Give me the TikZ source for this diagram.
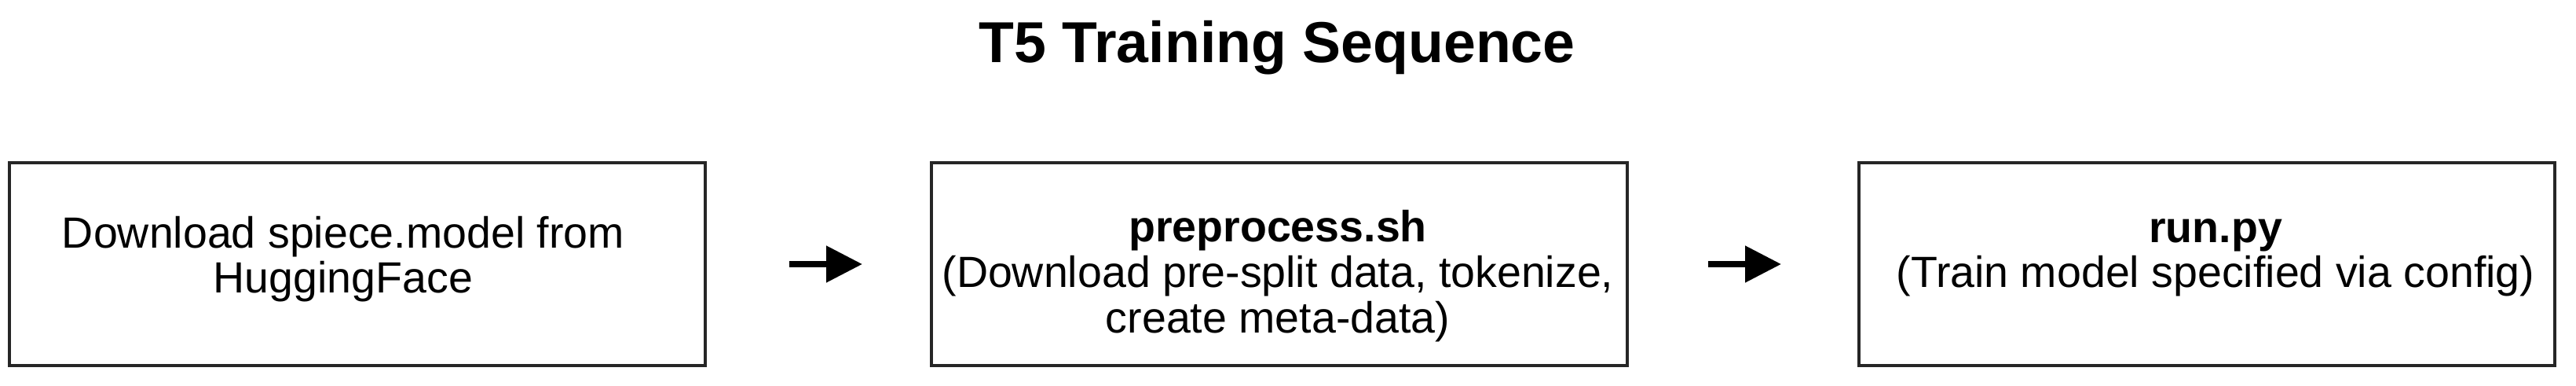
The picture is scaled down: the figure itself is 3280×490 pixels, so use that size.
\documentclass[tikz,border=0pt]{standalone}
\usepackage{fontspec}
\setmainfont{Liberation Sans}
\usetikzlibrary{arrows.meta}
\begin{document}
\begin{tikzpicture}[x=0.1mm,y=0.1mm,
  box/.style={draw=black!85, line width=0.45mm, minimum width=88.6mm, minimum height=25.8mm, inner sep=0pt, outer sep=0pt},
  boxtext/.style={align=center, font=\fontsize{15.8}{16.4}\selectfont, inner sep=0pt},
  flow/.style={-{Triangle[length=4.6mm,width=4.5mm]}, line width=0.8mm}]
\useasboundingbox (0,0) rectangle (3280,490);
\node[font=\bfseries\fontsize{20.9}{24}\selectfont, anchor=base, inner sep=0pt] (title) at (1626,410) {T5 Training Sequence};
\node[box] (b1) at (455,154) {};
\node[box] (b2) at (1629,154) {};
\node[box] (b3) at (2810,154) {};
\node[boxtext] (t1) at (437,157.7) {\strut Download spiece.model from\\HuggingFace\strut};
\node[boxtext] (t2) at (1627,136) {\strut\textbf{preprocess.sh}\\(Download pre-split data, tokenize,\\create meta-data)\strut};
\node[boxtext] (t3) at (2821,164.7) {\strut\textbf{run.py}\\(Train model specified via config)\strut};
\draw[flow, shorten <=10.7mm, shorten >=8.8mm] (b1.east) -- (b2.west);
\draw[flow, shorten <=10.3mm, shorten >=9.9mm] (b2.east) -- (b3.west);
\end{tikzpicture}
\end{document}
